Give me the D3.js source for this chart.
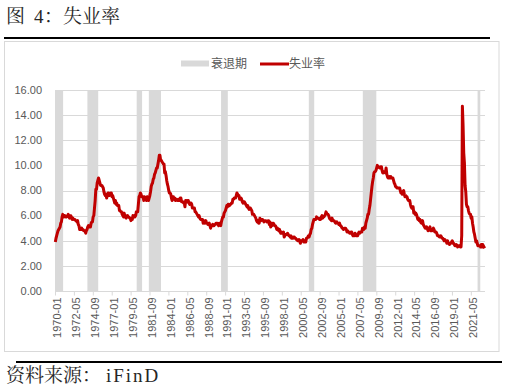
<!DOCTYPE html>
<html>
<head>
<meta charset="utf-8">
<script src="https://cdn.jsdelivr.net/npm/d3@7"></script>
<style>
  body { margin: 0; background: #fff; }
  svg { display: block; }
</style>
</head>
<body>
<script>
// US unemployment rate, monthly, 1970-01 .. 2023-01
const rate1970s = [
  3.9, 4.2, 4.4, 4.6, 4.8, 4.9, 5.0, 5.1, 5.4, 5.5, 5.9, 6.1,
  5.9, 5.9, 6.0, 5.9, 5.9, 5.9, 6.0, 6.1, 6.0, 5.8, 6.0, 6.0,
  5.8, 5.7, 5.8, 5.7, 5.7, 5.7, 5.6, 5.6, 5.5, 5.6, 5.3, 5.2,
  4.9, 5.0, 4.9, 5.0, 4.9, 4.9, 4.8, 4.8, 4.8, 4.6, 4.8, 4.9,
  5.1, 5.2, 5.1, 5.1, 5.1, 5.4, 5.5, 5.5, 5.9, 6.0, 6.6, 7.2,
  8.1, 8.1, 8.6, 8.8, 9.0, 8.8, 8.6, 8.4, 8.4, 8.4, 8.3, 8.2,
  7.9, 7.7, 7.6, 7.7, 7.4, 7.6, 7.8, 7.8, 7.6, 7.7, 7.8, 7.8,
  7.5, 7.6, 7.4, 7.2, 7.0, 7.2, 6.9, 7.0, 6.8, 6.8, 6.8, 6.4,
  6.4, 6.3, 6.3, 6.1, 6.0, 5.9, 6.2, 5.9, 6.0, 5.8, 5.9, 6.0,
  5.9, 5.9, 5.8, 5.8, 5.6, 5.7, 5.7, 6.0, 5.9, 6.0, 5.9, 6.0
];
const rate1980s = [
  6.3, 6.3, 6.3, 6.9, 7.5, 7.6, 7.8, 7.7, 7.5, 7.5, 7.5, 7.2,
  7.5, 7.4, 7.4, 7.2, 7.5, 7.5, 7.2, 7.4, 7.6, 7.9, 8.3, 8.5,
  8.6, 8.9, 9.0, 9.3, 9.4, 9.6, 9.8, 9.8, 10.1, 10.4, 10.8, 10.8,
  10.4, 10.4, 10.3, 10.2, 10.1, 10.1, 9.4, 9.5, 9.2, 8.8, 8.5, 8.3,
  8.0, 7.8, 7.8, 7.7, 7.4, 7.2, 7.5, 7.5, 7.3, 7.4, 7.2, 7.3,
  7.3, 7.2, 7.2, 7.3, 7.2, 7.4, 7.4, 7.1, 7.1, 7.1, 7.0, 7.0,
  6.7, 7.2, 7.2, 7.1, 7.2, 7.2, 7.0, 6.9, 7.0, 7.0, 6.9, 6.6,
  6.6, 6.6, 6.6, 6.3, 6.3, 6.2, 6.1, 6.0, 5.9, 6.0, 5.8, 5.7,
  5.7, 5.7, 5.7, 5.4, 5.6, 5.4, 5.4, 5.6, 5.4, 5.4, 5.3, 5.3,
  5.4, 5.2, 5.0, 5.2, 5.2, 5.3, 5.2, 5.2, 5.3, 5.3, 5.4, 5.4
];
const rate1990s = [
  5.4, 5.3, 5.2, 5.4, 5.4, 5.2, 5.5, 5.7, 5.9, 5.9, 6.2, 6.3,
  6.4, 6.6, 6.8, 6.7, 6.9, 6.9, 6.8, 6.9, 6.9, 7.0, 7.0, 7.3,
  7.3, 7.4, 7.4, 7.4, 7.6, 7.8, 7.7, 7.6, 7.6, 7.3, 7.4, 7.4,
  7.3, 7.1, 7.0, 7.1, 7.1, 7.0, 6.9, 6.8, 6.7, 6.8, 6.6, 6.5,
  6.6, 6.6, 6.5, 6.4, 6.1, 6.1, 6.1, 6.0, 5.9, 5.8, 5.6, 5.5,
  5.6, 5.4, 5.4, 5.8, 5.6, 5.6, 5.7, 5.7, 5.6, 5.5, 5.6, 5.6,
  5.6, 5.5, 5.5, 5.6, 5.6, 5.3, 5.5, 5.1, 5.2, 5.2, 5.4, 5.4,
  5.3, 5.2, 5.2, 5.1, 4.9, 5.0, 4.9, 4.8, 4.9, 4.7, 4.6, 4.7,
  4.6, 4.6, 4.7, 4.3, 4.4, 4.5, 4.5, 4.5, 4.6, 4.5, 4.4, 4.4,
  4.3, 4.4, 4.2, 4.3, 4.2, 4.3, 4.3, 4.2, 4.2, 4.1, 4.1, 4.0
];
const rate2000s = [
  4.0, 4.1, 4.0, 3.8, 4.0, 4.0, 4.0, 4.1, 3.9, 3.9, 3.9, 3.9,
  4.2, 4.2, 4.3, 4.4, 4.3, 4.5, 4.6, 4.9, 5.0, 5.3, 5.5, 5.7,
  5.7, 5.7, 5.7, 5.9, 5.8, 5.8, 5.8, 5.7, 5.7, 5.7, 5.9, 6.0,
  5.8, 5.9, 5.9, 6.0, 6.1, 6.3, 6.2, 6.1, 6.1, 6.0, 5.8, 5.7,
  5.7, 5.6, 5.8, 5.6, 5.6, 5.6, 5.5, 5.4, 5.4, 5.5, 5.4, 5.4,
  5.3, 5.4, 5.2, 5.2, 5.1, 5.0, 5.0, 4.9, 5.0, 5.0, 5.0, 4.9,
  4.7, 4.8, 4.7, 4.7, 4.6, 4.6, 4.7, 4.7, 4.5, 4.4, 4.5, 4.4,
  4.6, 4.5, 4.4, 4.5, 4.4, 4.6, 4.7, 4.6, 4.7, 4.7, 4.7, 5.0,
  5.0, 4.9, 5.1, 5.0, 5.4, 5.6, 5.8, 6.1, 6.1, 6.5, 6.8, 7.3,
  7.8, 8.3, 8.7, 9.0, 9.4, 9.5, 9.5, 9.6, 9.8, 10.0, 9.9, 9.9
];
const rate2010s = [
  9.8, 9.8, 9.9, 9.9, 9.6, 9.4, 9.4, 9.5, 9.5, 9.4, 9.8, 9.3,
  9.1, 9.0, 9.0, 9.1, 9.0, 9.1, 9.0, 9.0, 9.0, 8.8, 8.6, 8.5,
  8.3, 8.3, 8.2, 8.2, 8.2, 8.2, 8.2, 8.0, 7.8, 7.8, 7.7, 7.9,
  8.0, 7.7, 7.5, 7.6, 7.5, 7.5, 7.3, 7.2, 7.2, 7.2, 6.9, 6.7,
  6.6, 6.7, 6.7, 6.2, 6.3, 6.1, 6.2, 6.1, 5.9, 5.7, 5.8, 5.6,
  5.7, 5.5, 5.4, 5.4, 5.6, 5.3, 5.2, 5.1, 5.0, 5.0, 5.1, 5.0,
  4.8, 4.9, 5.0, 5.1, 4.8, 4.9, 4.8, 4.9, 5.0, 4.9, 4.7, 4.7,
  4.7, 4.6, 4.4, 4.4, 4.4, 4.3, 4.3, 4.4, 4.3, 4.2, 4.2, 4.1,
  4.0, 4.1, 4.0, 4.0, 3.8, 4.0, 3.8, 3.8, 3.7, 3.8, 3.8, 3.9,
  4.0, 3.8, 3.8, 3.7, 3.6, 3.6, 3.7, 3.6, 3.5, 3.6, 3.6, 3.6
];
const rate2020s = [
  3.5, 3.5, 4.4, 14.7, 13.2, 11.0, 10.2, 8.4, 7.9, 6.9, 6.7, 6.7,
  6.4, 6.2, 6.1, 6.1, 5.8, 5.9, 5.4, 5.1, 4.7, 4.5, 4.2, 3.9,
  4.0, 3.8, 3.6, 3.6, 3.6, 3.6, 3.5, 3.7, 3.5, 3.7, 3.6, 3.5,
  3.4
];

// recession periods (first month, last month) as drawn
const recessionStart = ["1970-01", "1974-01", "1980-02", "1981-08", "1990-07", "2001-05", "2008-01", "2022-03"];
const recessionEnd   = ["1970-12", "1975-04", "1980-09", "1983-01", "1991-04", "2001-12", "2009-08", "2022-06"];

const tickLabels = ["1970-01", "1972-05", "1974-09", "1977-01", "1979-05", "1981-09", "1984-01", "1986-05",
  "1988-09", "1991-01", "1993-05", "1995-09", "1998-01", "2000-05", "2002-09", "2005-01", "2007-05",
  "2009-09", "2012-01", "2014-05", "2016-09", "2019-01", "2021-05"];
const yTicks = [0, 2, 4, 6, 8, 10, 12, 14, 16];

const rates = [].concat(rate1970s, rate1980s, rate1990s, rate2000s, rate2010s, rate2020s);
const monthIndex = (s) => (+s.slice(0, 4) - 1970) * 12 + (+s.slice(5, 7) - 1);

const width = 507;
const height = 392;
const grey = "#595959";
const cjk = "'Noto Serif CJK SC', 'Noto Sans CJK SC', serif";
const latin = "'Liberation Serif', serif";

const svg = d3.select("body").append("svg")
  .attr("width", width)
  .attr("height", height);

// title and rules
const title = svg.append("text")
  .attr("y", 23)
  .attr("font-family", cjk).attr("font-size", 19)
  .attr("fill", "#262626");
title.append("tspan").attr("x", 6).text("图");
title.append("tspan").attr("x", 34).attr("font-family", latin).text("4");
title.append("tspan").attr("x", 44).text("：失业率");

svg.append("line")
  .attr("x1", 4).attr("x2", 490).attr("y1", 38).attr("y2", 38)
  .attr("stroke", "#000").attr("stroke-width", 2);

// chart area frame
svg.append("rect")
  .attr("x", 4.5).attr("y", 41.5).attr("width", 494.5).attr("height", 310)
  .attr("fill", "#fff").attr("stroke", "#d9d9d9");

svg.append("line")
  .attr("x1", 16).attr("x2", 502).attr("y1", 362).attr("y2", 362)
  .attr("stroke", "#000").attr("stroke-width", 2);
const source = svg.append("text")
  .attr("y", 382)
  .attr("font-family", cjk).attr("font-size", 19)
  .attr("fill", "#262626");
source.append("tspan").attr("x", 6).text("资料来源：");
source.append("tspan").attr("x", 106).attr("font-family", latin)
  .attr("letter-spacing", 2).text("iFinD");

const x = d3.scaleLinear().domain([0, rates.length]).range([55, 485]);
const y = d3.scaleLinear().domain([0, 16]).range([291, 90]);

// gridlines
svg.append("g")
  .selectAll("line")
  .data(yTicks.slice(1))
  .join("line")
  .attr("x1", 55).attr("x2", 485)
  .attr("y1", (d) => Math.round(y(d)) + 0.5)
  .attr("y2", (d) => Math.round(y(d)) + 0.5)
  .attr("stroke", "#d9d9d9");

// recession bars
svg.append("g")
  .selectAll("rect")
  .data(recessionStart)
  .join("rect")
  .attr("x", (d) => x(monthIndex(d)))
  .attr("width", (d, i) => x(monthIndex(recessionEnd[i]) + 1) - x(monthIndex(d)))
  .attr("y", y(16))
  .attr("height", y(0) - y(16))
  .attr("fill", "#d9d9d9");

// y axis labels
svg.append("g")
  .selectAll("text")
  .data(yTicks)
  .join("text")
  .attr("x", 42)
  .attr("y", (d) => y(d))
  .attr("dy", "0.35em")
  .attr("text-anchor", "end")
  .attr("font-family", "'Liberation Sans', Arial, sans-serif")
  .attr("font-size", 11)
  .attr("fill", grey)
  .text((d) => d3.format(".2f")(d));

// x axis
const xAxis = d3.axisBottom(x)
  .tickValues(tickLabels.map(monthIndex))
  .tickFormat((d, i) => tickLabels[i])
  .tickSize(4)
  .tickSizeOuter(0);

const gx = svg.append("g")
  .attr("transform", `translate(0, ${Math.round(y(0)) + 0.5})`)
  .call(xAxis);
gx.select(".domain").attr("stroke", "#d9d9d9").attr("d", "M55,0H485");
gx.selectAll(".tick line").attr("stroke", "#d9d9d9");
gx.selectAll(".tick text")
  .attr("font-family", "'Liberation Sans', Arial, sans-serif")
  .attr("font-size", 11)
  .attr("fill", grey)
  .attr("text-anchor", "end")
  .attr("transform", "translate(2, 0) rotate(-90)")
  .attr("x", -6)
  .attr("y", 0)
  .attr("dy", "0.35em");

// unemployment line
const line = d3.line()
  .x((d, i) => x(i + 0.5))
  .y((d) => y(d));

svg.append("path")
  .datum(rates)
  .attr("d", line)
  .attr("fill", "none")
  .attr("stroke", "#c00000")
  .attr("stroke-width", 3)
  .attr("stroke-linejoin", "round");

// legend
const legend = svg.append("g").attr("font-family", "'Noto Sans CJK SC', sans-serif")
  .attr("font-size", 12).attr("fill", grey);
legend.append("rect")
  .attr("x", 181).attr("y", 60.5).attr("width", 28).attr("height", 6)
  .attr("fill", "#d9d9d9");
legend.append("text").attr("x", 211).attr("y", 63.5).attr("dy", "0.35em").text("衰退期");
legend.append("line")
  .attr("x1", 260).attr("x2", 289).attr("y1", 64).attr("y2", 64)
  .attr("stroke", "#c00000").attr("stroke-width", 3);
legend.append("text").attr("x", 289).attr("y", 63.5).attr("dy", "0.35em").text("失业率");
</script>
</body>
</html>
